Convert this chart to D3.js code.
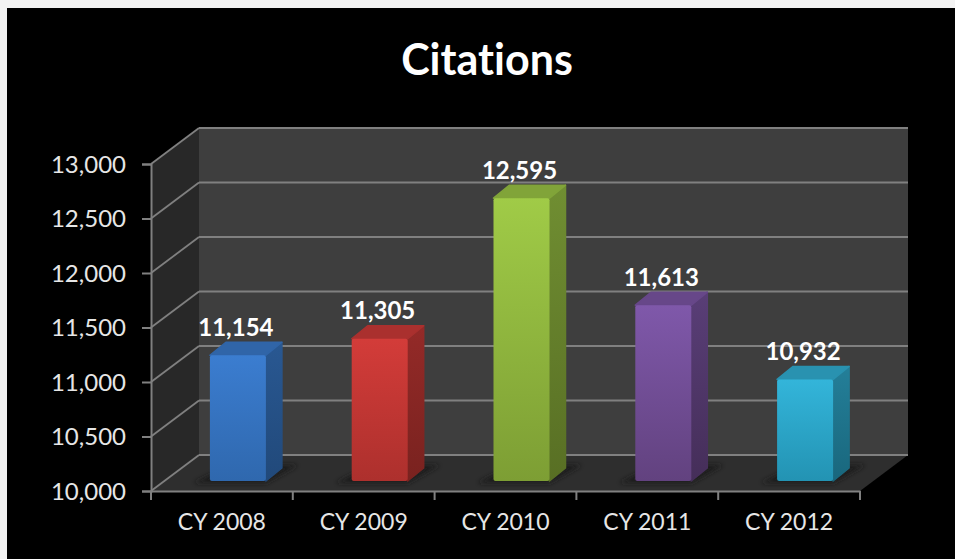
<!DOCTYPE html>
<html>
<head>
<meta charset="utf-8">
<script src="https://cdn.jsdelivr.net/npm/d3@7"></script>
<style>
html, body { margin: 0; padding: 0; background: #f3f3f3; overflow: hidden; }
text { font-family: Lato, "Open Sans", sans-serif; font-variant-ligatures: none; }
</style>
</head>
<body>
<svg id="chart" width="955" height="559"></svg>
<script>
// values
const categories = ["CY 2008", "CY 2009", "CY 2010", "CY 2011", "CY 2012"];
const citations = [11154, 11305, 12595, 11613, 10932];
const yTicks = [10000, 10500, 11000, 11500, 12000, 12500, 13000];
const frontColors = ["#3b7dd0", "#d33c39", "#a0cb47", "#7f58aa", "#33b5da"];
const endColors = ["#2f68ae", "#ad302d", "#7d9e34", "#62427f", "#2393b3"];
const title = "Citations";

const svg = d3.select("#chart");
const defs = svg.append("defs");

// black panel, the light strip stays visible top and left
svg.append("rect").attr("x", 7).attr("y", 8).attr("width", 948).attr("height", 551).attr("fill", "#000");

const x = d3.scaleBand().domain(categories).range([151, 860]);
const y = d3.scaleLinear().domain([10000, 13000]).range([491, 164]);

// 3d offsets of the box
const depthX = 48, depthY = -36;
const barFront = 10;              // how far the bar stands up from the front edge
const barDepthX = 16, barDepthY = -13;
const barW = 56;

const barLeft = c => x(c) + x.bandwidth() / 2 + 16 - barW / 2;
const barTop = v => y(v) - barFront;
const baseY = y(10000) - barFront;

// walls and floor
svg.append("rect")
	.attr("x", x.range()[0] + depthX).attr("y", y(13000) + depthY)
	.attr("width", x.range()[1] - x.range()[0]).attr("height", y(10000) - y(13000))
	.attr("fill", "#3e3e3e");
svg.append("path")
	.attr("d", d3.line()([
		[x.range()[0], y(13000)],
		[x.range()[0] + depthX, y(13000) + depthY],
		[x.range()[0] + depthX, y(10000) + depthY],
		[x.range()[0], y(10000)]
	]) + "Z")
	.attr("fill", "#282828");
svg.append("path")
	.attr("d", d3.line()([
		[x.range()[0], y(10000)],
		[x.range()[0] + depthX, y(10000) + depthY],
		[x.range()[1] + depthX, y(10000) + depthY],
		[x.range()[1], y(10000)]
	]) + "Z")
	.attr("fill", "#2e2e2e");

// gridlines, side wall part then back wall part
const gridCol = "#808080";
const grid = svg.append("g");
grid.selectAll(".back").data(yTicks).join("line").attr("class", "back")
	.attr("x1", x.range()[0] + depthX).attr("x2", x.range()[1] + depthX)
	.attr("y1", d => y(d) + depthY).attr("y2", d => y(d) + depthY)
	.attr("stroke", gridCol).attr("stroke-width", 2.2);
grid.selectAll(".side").data(yTicks).join("line").attr("class", "side")
	.attr("x1", x.range()[0]).attr("x2", x.range()[0] + depthX)
	.attr("y1", d => y(d)).attr("y2", d => y(d) + depthY)
	.attr("stroke", gridCol).attr("stroke-width", 1.8);

// left axis
const yAxis = d3.axisLeft(y).tickValues(yTicks).tickSize(9).tickPadding(16).tickFormat(d3.format(","));
const gy = svg.append("g").attr("transform", "translate(" + x.range()[0] + ",0)").call(yAxis);
gy.select(".domain").attr("stroke", gridCol).attr("stroke-width", 2);
gy.selectAll(".tick line").attr("stroke", gridCol).attr("stroke-width", 2);
gy.selectAll(".tick text").attr("fill", "#e6e6e6").style("font-size", "24px").attr("dy", "0.35em");

// bottom axis, ticks sit between the bands so they are drawn apart from the labels
const xAxis = d3.axisBottom(x).tickSize(0).tickPadding(23);
const gx = svg.append("g").attr("transform", "translate(0," + y(10000) + ")").call(xAxis);
gx.select(".domain").attr("stroke", gridCol).attr("stroke-width", 2);
gx.selectAll(".tick text").attr("fill", "#e6e6e6").style("font-size", "23px");
const edges = categories.map(c => x(c)).concat([x.range()[1]]);
gx.selectAll(".edge").data(edges).join("line").attr("class", "edge")
	.attr("x1", d => d).attr("x2", d => d).attr("y1", 0).attr("y2", 9)
	.attr("stroke", gridCol).attr("stroke-width", 2);

// floor shadows
defs.append("filter").attr("id", "blur")
	.attr("x", "-30%").attr("y", "-60%").attr("width", "160%").attr("height", "220%")
	.append("feGaussianBlur").attr("stdDeviation", 2.5);
svg.append("g").selectAll("path").data(categories).join("path")
	.attr("d", c => {
		const l = barLeft(c);
		return d3.line()([
			[l - 16, baseY + 2],
			[l + barW, baseY + 2],
			[l + barW + barDepthX + 16, baseY - 16],
			[l + 20, baseY - 16]
		]) + "Z";
	})
	.attr("fill", "#1d1d1d")
	.attr("filter", "url(#blur)");

// gradients per bar
categories.forEach((c, i) => {
	const g = defs.append("linearGradient").attr("id", "grad" + i)
		.attr("x1", 0).attr("x2", 0).attr("y1", 0).attr("y2", 1);
	g.append("stop").attr("offset", "0%").attr("stop-color", frontColors[i]);
	g.append("stop").attr("offset", "100%").attr("stop-color", endColors[i]);
	const s = defs.append("linearGradient").attr("id", "side" + i)
		.attr("x1", 0).attr("x2", 0).attr("y1", 0).attr("y2", 1);
	s.append("stop").attr("offset", "0%").attr("stop-color", d3.color(frontColors[i]).darker(1));
	s.append("stop").attr("offset", "100%").attr("stop-color", d3.color(endColors[i]).darker(1));
});

// bars
const bars = svg.append("g").selectAll("g").data(citations).join("g");
bars.append("path") // side face
	.attr("d", (d, i) => {
		const r = barLeft(categories[i]) + barW;
		return d3.line()([
			[r, barTop(d)],
			[r + barDepthX, barTop(d) + barDepthY],
			[r + barDepthX, baseY + barDepthY],
			[r, baseY]
		]) + "Z";
	})
	.attr("fill", (d, i) => "url(#side" + i + ")")
	.attr("stroke", (d, i) => "url(#side" + i + ")")
	.attr("stroke-width", 1.5)
	.attr("stroke-linejoin", "round");
bars.append("path") // top face
	.attr("d", (d, i) => {
		const l = barLeft(categories[i]);
		return d3.line()([
			[l, barTop(d)],
			[l + barDepthX, barTop(d) + barDepthY],
			[l + barW + barDepthX, barTop(d) + barDepthY],
			[l + barW, barTop(d)]
		]) + "Z";
	})
	.attr("fill", (d, i) => d3.color(frontColors[i]).darker(0.6))
	.attr("stroke", (d, i) => d3.color(frontColors[i]).darker(0.6))
	.attr("stroke-width", 1.5)
	.attr("stroke-linejoin", "round");
bars.append("rect") // front face
	.attr("x", (d, i) => barLeft(categories[i]))
	.attr("y", d => barTop(d))
	.attr("width", barW)
	.attr("height", d => baseY - barTop(d))
	.attr("rx", 2)
	.attr("fill", (d, i) => "url(#grad" + i + ")");

// value labels
bars.append("text")
	.attr("x", (d, i) => barLeft(categories[i]) + barW / 2 - 2)
	.attr("y", d => barTop(d) - 19.5)
	.attr("text-anchor", "middle")
	.attr("fill", "#fff")
	.style("font-size", "24px")
	.style("font-weight", 700)
	.text(d => d3.format(",")(d));

// title
svg.append("text")
	.attr("x", 487).attr("y", 75)
	.attr("text-anchor", "middle")
	.attr("fill", "#fff")
	.style("font-size", "43px")
	.style("font-weight", 700)
	.text(title);
</script>
</body>
</html>
